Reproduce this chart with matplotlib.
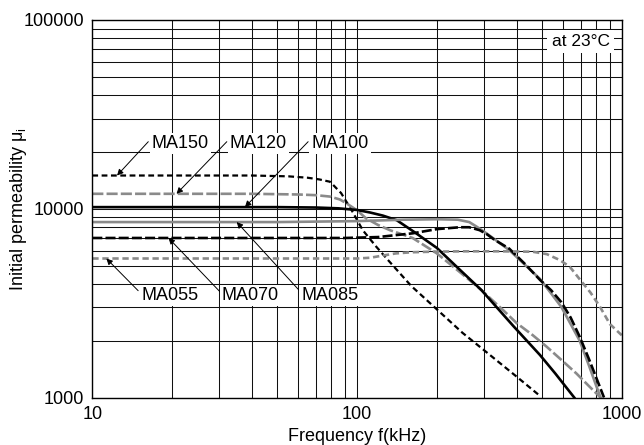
import matplotlib
matplotlib.use("Agg")
import matplotlib.pyplot as plt
from matplotlib.ticker import LogLocator, FixedLocator, FixedFormatter, NullFormatter

plt.rcParams['font.family'] = ['Liberation Sans', 'DejaVu Sans']

# ---- data ----
ma150_f = [10, 40, 55, 65, 72, 79, 87, 95, 105, 118, 130, 160, 200, 250, 300, 400, 490]
ma150_mu = [15000, 15000, 14850, 14600, 14300, 13900, 12100, 9900, 7700, 6300, 5400, 3900, 2930, 2200, 1790, 1290, 1020]

ma120_f = [10, 40, 60, 70, 79, 86, 91, 100, 108, 120, 133, 162, 200, 245, 290, 356, 400, 460, 519, 600, 673, 750, 830]
ma120_mu = [12000, 12000, 11900, 11800, 11600, 11200, 10700, 9800, 8900, 8200, 7700, 7000, 5800, 4600, 3780, 2900, 2480, 2140, 1860, 1550, 1340, 1150, 1000]

ma100_f = [10, 50, 70, 85, 100, 112, 125, 141, 165, 200, 245, 295, 390, 490, 560, 660]
ma100_mu = [10200, 10200, 10150, 10050, 9850, 9550, 9200, 8700, 7500, 6200, 4730, 3700, 2380, 1680, 1340, 1000]

ma085_f = [10, 50, 100, 150, 200, 240, 265, 282, 300, 330, 375, 430, 490, 540, 590, 640, 692, 750, 800, 830]
ma085_mu = [8500, 8500, 8600, 8750, 8800, 8750, 8500, 8050, 7600, 6900, 6040, 5050, 4250, 3560, 3020, 2450, 2000, 1480, 1150, 1000]

ma070_f = [10, 90, 120, 140, 162, 200, 244, 265, 290, 308, 330, 375, 430, 490, 540, 590, 640, 692, 750, 800, 855]
ma070_mu = [7000, 7000, 7080, 7250, 7410, 7800, 7980, 7980, 7700, 7350, 6850, 6150, 5100, 4200, 3700, 3200, 2650, 2100, 1600, 1270, 1000]

ma055_f = [10, 100, 112, 125, 140, 160, 190, 250, 350, 460, 520, 582, 635, 700, 760, 825, 900, 1000]
ma055_mu = [5450, 5450, 5500, 5650, 5800, 5880, 5920, 5950, 5950, 5920, 5750, 5350, 4930, 4150, 3600, 3030, 2450, 2130]

labels = ["MA150", "MA120", "MA100", "MA055", "MA070", "MA085"]

x_ticks = [10, 100, 1000]
x_tick_labels = ["10", "100", "1000"]
y_ticks = [1000, 10000, 100000]
y_tick_labels = ["1000", "10000", "100000"]

GRAY = "#8a8a8a"

fig = plt.figure(figsize=(6.44, 4.45), dpi=100)
ax = fig.add_axes([92.3 / 644, (445 - 397.5) / 445, (622 - 92.3) / 644, (397.5 - 20) / 445])
ax.set_xscale('log')
ax.set_yscale('log')
ax.set_xlim(10, 1000)
ax.set_ylim(1000, 100000)

# grid
ax.xaxis.set_major_locator(FixedLocator(x_ticks))
ax.xaxis.set_major_formatter(FixedFormatter(x_tick_labels))
ax.yaxis.set_major_locator(FixedLocator(y_ticks))
ax.yaxis.set_major_formatter(FixedFormatter(y_tick_labels))
ax.xaxis.set_minor_locator(LogLocator(base=10, subs=range(2, 10), numticks=20))
ax.yaxis.set_minor_locator(LogLocator(base=10, subs=range(2, 10), numticks=20))
ax.xaxis.set_minor_formatter(NullFormatter())
ax.yaxis.set_minor_formatter(NullFormatter())
ax.grid(True, which='both', color='#111111', lw=0.75)
ax.set_axisbelow(True)
ax.tick_params(which='both', length=0, labelsize=13, pad=6)
for s in ax.spines.values():
    s.set_linewidth(1.0)
    s.set_color('black')

# curves
l150, = ax.plot(ma150_f, ma150_mu, color='black', lw=1.6)
l150.set_dashes([2.6, 1.6])
l120, = ax.plot(ma120_f, ma120_mu, color=GRAY, lw=1.9)
l120.set_dashes([4.2, 1.2])
ax.plot(ma100_f, ma100_mu, color='black', lw=1.9)
ax.plot(ma085_f, ma085_mu, color=GRAY, lw=1.9)
l070, = ax.plot(ma070_f, ma070_mu, color='black', lw=1.9)
l070.set_dashes([3.8, 1.2])
l055, = ax.plot(ma055_f, ma055_mu, color=GRAY, lw=1.9)
l055.set_dashes([2.4, 1.4])

# annotations: (text x, text baseline y, tail x, tail y, head x, head y)
ann = [
    (16.8, 20910, 16.27, 22660, 12.4, 15000),
    (33.1, 20910, 32.2, 22660, 20.8, 12000),
    (67.3, 20910, 65.3, 22660, 37.7, 10200),
    (15.4, 3286, 14.9, 3680, 11.3, 5450),
    (30.8, 3286, 30.3, 3640, 19.4, 7000),
    (61.7, 3286, 60.8, 3660, 35.1, 8500),
]
for lab, (tx, ty, ax_, ay_, hx, hy) in zip(labels, ann):
    ax.annotate('', xy=(hx, hy), xytext=(ax_, ay_),
                arrowprops=dict(arrowstyle='-|>', lw=0.7, color='black',
                                mutation_scale=9, shrinkA=0, shrinkB=0),
                zorder=5)
    ax.text(tx, ty, lab, fontsize=13, ha='left', va='baseline', zorder=6,
            bbox=dict(boxstyle='square,pad=0.12', fc='white', ec='none'))

ax.text(0.977, 0.931, "at 23°C", transform=ax.transAxes, fontsize=12.5,
        ha='right', va='baseline', zorder=6,
        bbox=dict(boxstyle='square,pad=0.25', fc='white', ec='none'))

ax.set_xlabel("Frequency f(kHz)", fontsize=13, labelpad=4)
ax.set_ylabel("Initial permeability μ$_\\mathregular{i}$", fontsize=13)
ax.yaxis.set_label_coords((29 - 92.3) / 529.7, 0.5)

fig.savefig("out.png", dpi=100)
